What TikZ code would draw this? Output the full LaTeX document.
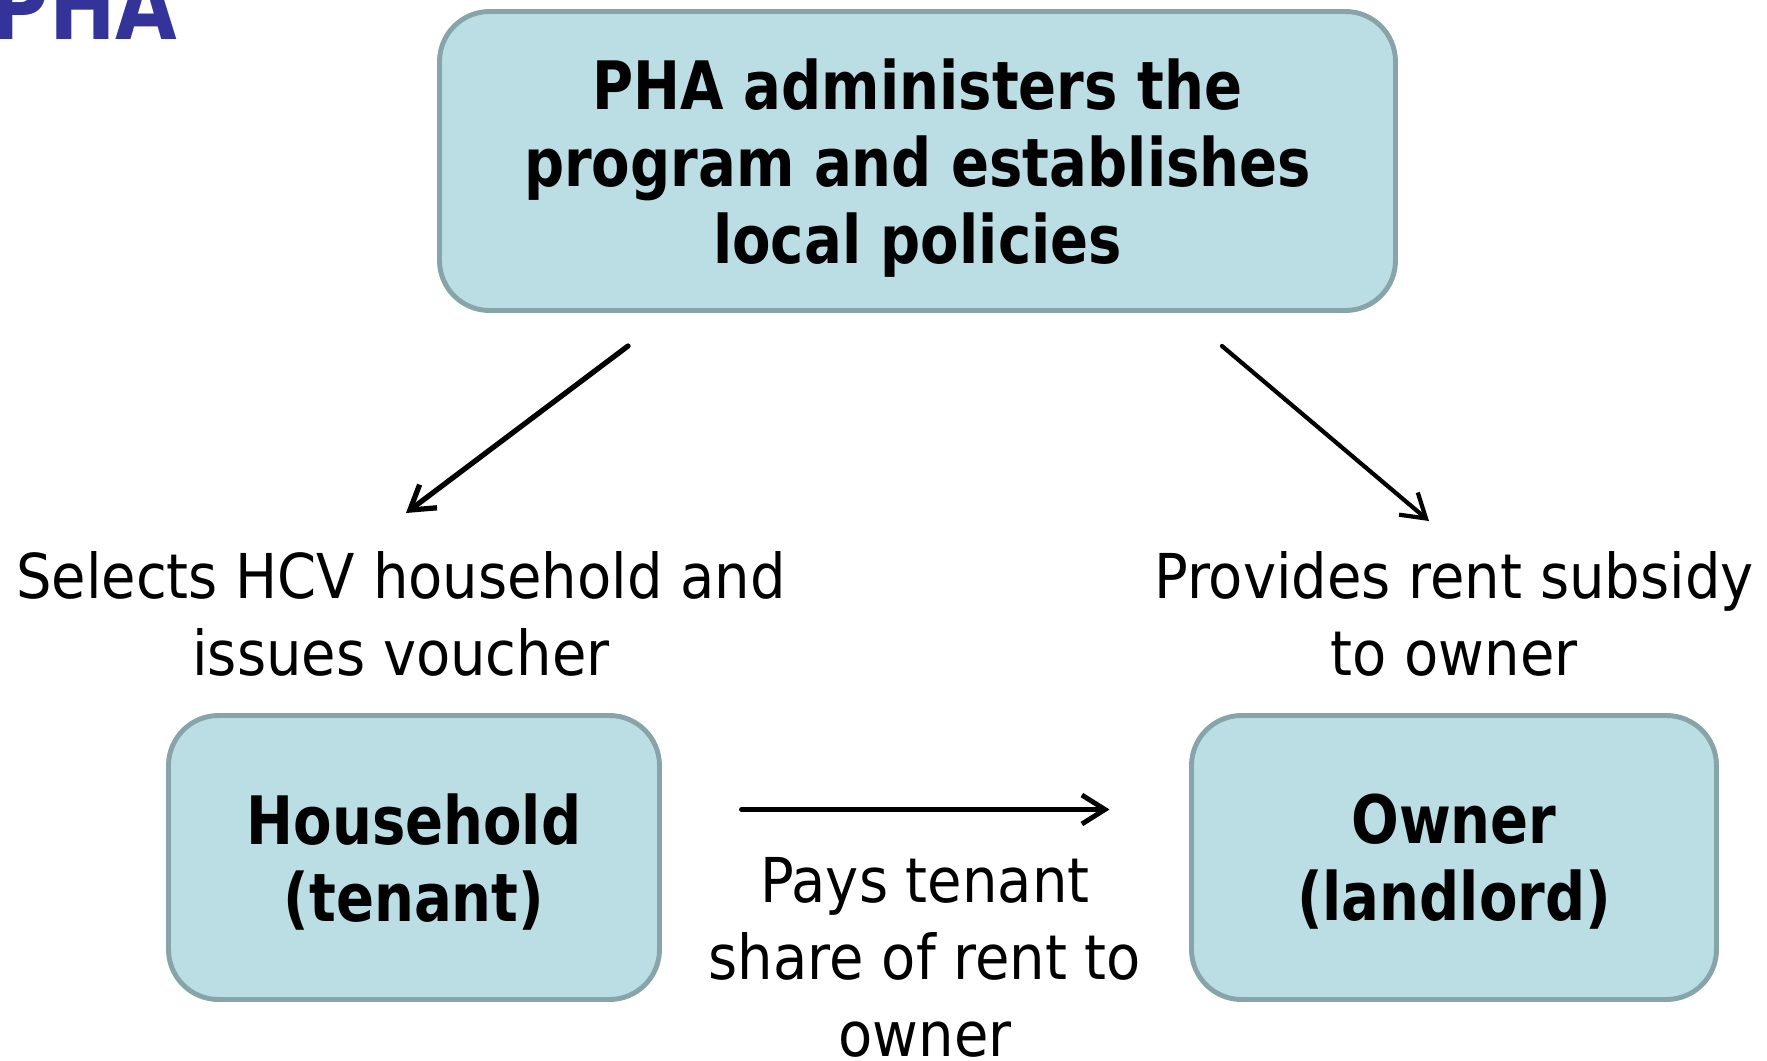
\documentclass[tikz,border=0pt]{standalone}
\usepackage{fontspec}
\usepackage{xcolor}
\usetikzlibrary{arrows.meta,positioning}
\setmainfont{DejaVu Sans}[FakeStretch=0.905]
\newfontfamily\boxfont{DejaVu Sans}[FakeStretch=0.84]
\definecolor{boxFill}{RGB}{187,222,228}
\definecolor{boxEdge}{RGB}{135,165,168}
\definecolor{titleBlue}{RGB}{51,51,153}
\tikzset{
  roleBox/.style={draw=boxEdge,fill=boxFill,line width=1.4pt,rounded corners=5mm,inner sep=0pt,outer sep=0pt,text depth=0pt,align=center,font=\boxfont\bfseries\fontsize{19}{21.9}\selectfont},
  noteText/.style={anchor=north,inner sep=0pt,align=center,font=\fontsize{17.6}{21.9}\selectfont},
  flowArrow/.style={-{Straight Barb[length=2.3mm,width=2.9mm]},line width=1.4pt,line cap=round}
}

\begin{document}
\begin{tikzpicture}[x=0.1mm,y=-0.1mm]
\useasboundingbox (0,0) rectangle (1767,1061);
\node[anchor=base west,inner sep=0pt,text=titleBlue,font=\boxfont\bfseries\fontsize{27}{30}\selectfont] (title) at (-10,39) {PHA};
% the three parties
\node[roleBox,minimum width=95.6mm,minimum height=29.9mm] (pha) at (917.5,161) {PHA administers the\\program and establishes\\local policies};
\node[roleBox,minimum width=49.1mm,minimum height=28.4mm] (tenant) at (414,857.5) {Household\\(tenant)};
\node[roleBox,minimum width=52.5mm,minimum height=28.4mm] (owner) at (1454,857.5) {Owner\\(landlord)};
% what each one does
\node[noteText] (selects) at (401,551) {Selects HCV household and\\issues voucher};
\node[noteText] (subsidy) at (1454,551) {Provides rent subsidy\\to owner};
\node[noteText] (share) at (925,857) {Pays tenant\\share of rent to\\owner};
% arrows
\coordinate (selStart) at (628,346);
\coordinate (selEnd) at (406,513);
\coordinate (subStart) at (1222,346);
\coordinate (subEnd) at (1429,521);
\draw[flowArrow,line width=1.5pt] (selStart) -- (selEnd);
\draw[flowArrow,line width=1.2pt] (subStart) -- (subEnd);
\draw[flowArrow,shorten <=8.2mm,shorten >=8.2mm] ([yshift=4.8mm]tenant.east) -- ([yshift=4.8mm]owner.west);
\end{tikzpicture}
\end{document}
